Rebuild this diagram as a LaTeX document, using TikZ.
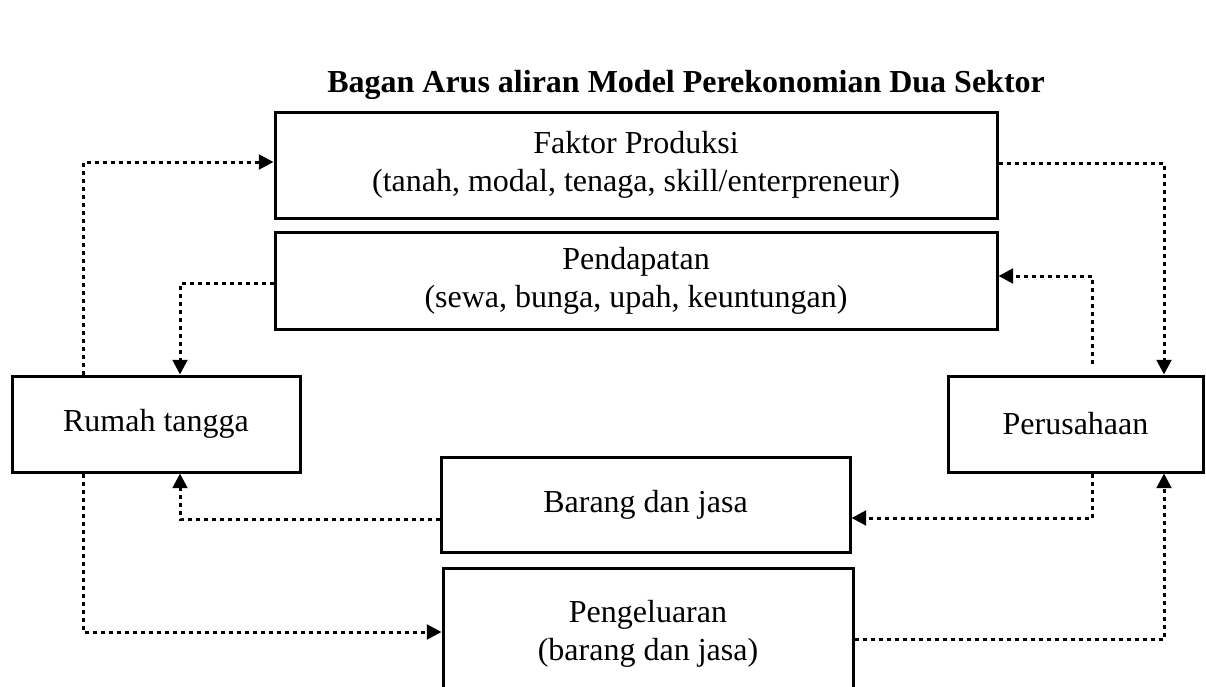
\documentclass[tikz,border=0pt]{standalone}
\usepackage{fontspec}
\setmainfont{Liberation Serif}
\usetikzlibrary{arrows.meta}
\begin{document}
\begin{tikzpicture}[x=0.75pt,y=-0.75pt,
  box/.style={draw=black, line width=2.25pt, fill=white, align=center, inner sep=0pt,
    font=\fontsize{24}{28.5}\selectfont},
  flow/.style={line width=2.25pt, dash pattern=on 3pt off 3pt,
    -{Triangle[length=11pt,width=11pt]}}]
\useasboundingbox (0,0) rectangle (1206,686);
\clip (0,0) rectangle (1206,686);
\node[font=\fontsize{24}{28.5}\selectfont\bfseries, anchor=base west, inner sep=0pt] (title) at (327,92) {Bagan Arus aliran Model Perekonomian Dua Sektor};
\node[box, minimum width=541.5pt, minimum height=79.5pt] (faktor) at (636,165)
  {Faktor Produksi\\(tanah, modal, tenaga, skill/enterpreneur)};
\node[box, minimum width=541.5pt, minimum height=72.75pt] (pend) at (636,280.5)
  {Pendapatan\\(sewa, bunga, upah, keuntungan)};
\node[box, minimum width=216pt, minimum height=72pt] (rumah) at (156,424) {Rumah tangga};
\node[box, minimum width=191.25pt, minimum height=72pt] (perus) at (1075.5,424) {Perusahaan};
\node[box, minimum width=306.75pt, minimum height=71.25pt] (barang) at (645.5,504.5) {Barang dan jasa};
\node[box, minimum width=307.5pt, minimum height=99pt] (peng) at (648,634)
  {Pengeluaran\\(barang dan jasa)};
\coordinate (a1) at (83,162);
\coordinate (a2) at (180,283);
\coordinate (a3) at (1164,163);
\coordinate (a4) at (1092,276);
\coordinate (a5) at (1092,518);
\coordinate (a6) at (180,519);
\coordinate (a7) at (83,632);
\coordinate (a8) at (1164,639);
\draw[flow] (rumah.north -| a1) |- (faktor.west |- a1);
\draw[flow] (pend.west |- a2) -| (rumah.north -| a2);
\draw[flow] (faktor.east |- a3) -| (perus.north -| a3);
\draw[flow, shorten <=8pt] (perus.north -| a4) |- (pend.east |- a4);
\draw[flow] (perus.south -| a5) |- (barang.east |- a5);
\draw[flow] (barang.west |- a6) -| (rumah.south -| a6);
\draw[flow] (rumah.south -| a7) |- (peng.west |- a7);
\draw[flow] (peng.east |- a8) -| (perus.south -| a8);
\end{tikzpicture}
\end{document}
